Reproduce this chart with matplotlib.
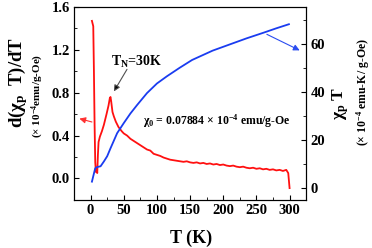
import matplotlib
matplotlib.use('Agg')
import matplotlib.pyplot as plt
from matplotlib.ticker import MultipleLocator

plt.rcParams['font.family'] = ['Liberation Serif', 'DejaVu Serif']
plt.rcParams['font.weight'] = 'bold'
plt.rcParams['mathtext.fontset'] = 'custom'
plt.rcParams['mathtext.rm'] = 'Liberation Serif:bold'
plt.rcParams['mathtext.it'] = 'Liberation Serif:bold'
plt.rcParams['mathtext.bf'] = 'Liberation Serif:bold'

# d(chi_p T)/dT  (left axis, red)
red_T = [2, 4, 5, 6, 7, 8, 9, 10, 11, 12, 14, 17, 20, 24, 27, 29, 30, 31, 33, 35,
         38, 42, 47, 50, 55, 60, 65, 70, 75, 80, 85, 90, 95, 100, 105, 110, 115,
         120, 125, 130, 135, 140, 145, 150, 155, 160, 165, 170, 175, 180, 185,
         190, 195, 200, 205, 210, 215, 220, 225, 230, 235, 240, 245, 250, 255,
         260, 265, 270, 275, 280, 285, 290, 295, 298, 300]
red_v = [1.47, 1.42, 1.00, 0.50, 0.15, 0.06, 0.09, 0.05, 0.22, 0.34, 0.39, 0.44,
         0.50, 0.60, 0.68, 0.75, 0.76, 0.72, 0.62, 0.58, 0.53, 0.48, 0.44, 0.42,
         0.40, 0.37, 0.35, 0.33, 0.31, 0.29, 0.27, 0.26, 0.23, 0.22, 0.21, 0.195,
         0.185, 0.175, 0.17, 0.165, 0.16, 0.155, 0.16, 0.15, 0.145, 0.15, 0.14,
         0.145, 0.135, 0.14, 0.13, 0.135, 0.125, 0.13, 0.12, 0.115, 0.12, 0.11,
         0.105, 0.11, 0.10, 0.095, 0.10, 0.09, 0.095, 0.085, 0.09, 0.08, 0.085,
         0.075, 0.08, 0.07, 0.08, 0.05, -0.09]

# chi_p T  (right axis, blue)
blue_T = [2, 5, 7, 10, 15, 20, 25, 30, 40, 50, 60, 70, 85, 100, 115, 134, 153,
          184, 210, 235, 260, 280, 299]
blue_v = [2.6, 6.0, 8.2, 8.7, 9.0, 11.0, 13.2, 16.5, 22.8, 27.0, 31.0, 34.5,
          39.5, 43.5, 46.5, 50.0, 53.3, 57.2, 59.8, 62.3, 64.6, 66.5, 68.2]

fig = plt.figure(figsize=(3.72, 2.48), dpi=100)
ax = fig.add_axes([0.199, 0.194, 0.624, 0.778])
ax2 = ax.twinx()

ax.plot(red_T, red_v, color='#ff1010', lw=1.3)
ax2.plot(blue_T, blue_v, color='#1a3cf0', lw=1.3)

ax.set_xlim(-25, 325)
ax.set_ylim(-0.2, 1.6)
ax2.set_ylim(-5, 75.4)

ax.xaxis.set_major_locator(MultipleLocator(50))
ax.xaxis.set_minor_locator(MultipleLocator(25))
ax.yaxis.set_major_locator(MultipleLocator(0.4))
ax.yaxis.set_minor_locator(MultipleLocator(0.2))
ax2.yaxis.set_major_locator(MultipleLocator(20))
ax2.yaxis.set_minor_locator(MultipleLocator(10))
ax.yaxis.set_major_formatter(plt.FormatStrFormatter('%.1f'))

for a in (ax, ax2):
    a.tick_params(which='both', direction='in', labelsize=10.5, pad=3)
    a.tick_params(which='major', length=3.5)
    a.tick_params(which='minor', length=2)
    for lab in a.get_xticklabels() + a.get_yticklabels():
        lab.set_fontweight('bold')

# arrows
ax.annotate('', xy=(-21, 0.565), xytext=(6, 0.52),
            arrowprops=dict(arrowstyle='-|>', color='#ff3030', lw=0.8,
                            mutation_scale=9))
ax2.annotate('', xy=(319, 56.8), xytext=(262, 64.5),
             arrowprops=dict(arrowstyle='-|>', color='#2a4cf0', lw=0.8,
                             mutation_scale=9))
ax.annotate('', xy=(33, 0.79), xytext=(57, 1.04),
            arrowprops=dict(arrowstyle='-|>', color='#505050', lw=0.8,
                            mutation_scale=9, fc='black'))
ax.text(69, 1.09, r'T$_\mathrm{N}$=30K', ha='center', va='center',
        fontsize=10, fontweight='bold')
ax.text(190, 0.53, r'$\chi_0$ = 0.07884 $\times$ 10$^{-4}$ emu/g-Oe',
        ha='center', va='center', fontsize=8.5, fontweight='bold')

fig.text(18 / 372, 1 - 82 / 248, r'd($\chi_p$  T)/dT', rotation=90,
         ha='center', va='center', fontsize=13.5, fontweight='bold')
fig.text(38 / 372, 1 - 96 / 248, r'($\times$ 10$^{-4}$emu/g-Oe)', rotation=90,
         ha='center', va='center', fontsize=8, fontweight='bold')
fig.text(341 / 372, 1 - 104 / 248, r'$\chi_p$ T', rotation=90, ha='center',
         va='center', fontsize=12.5, fontweight='bold')
fig.text(363 / 372, 1 - 92 / 248, r'($\times$ 10$^{-4}$ emu-K/ g-Oe)',
         rotation=90, ha='center', va='center', fontsize=8.5, fontweight='bold')
fig.text(191 / 372, 1 - 238 / 248, 'T (K)', ha='center', va='center',
         fontsize=13, fontweight='bold')

fig.savefig('out.png', dpi=100)
